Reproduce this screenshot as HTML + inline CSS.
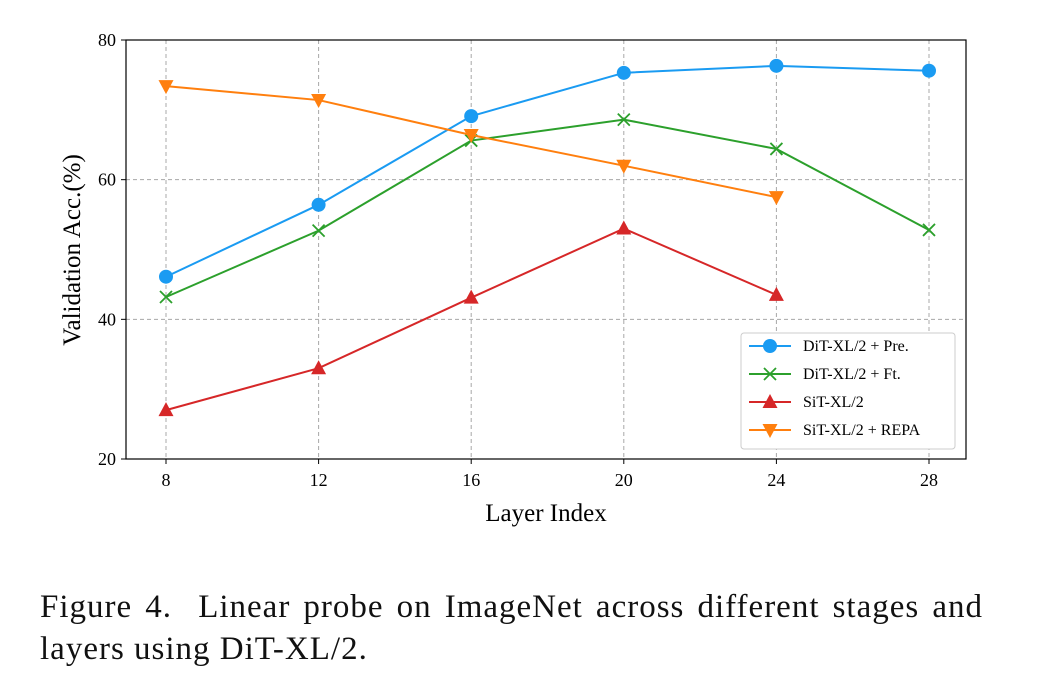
<!DOCTYPE html>
<html><head><meta charset="utf-8"><style>
body{margin:0;background:#fff;width:1046px;height:688px;overflow:hidden;font-family:"Liberation Serif",serif;}
svg text{font-family:"Liberation Serif",serif;}
.cap{position:absolute;left:40px;font-size:33px;letter-spacing:1px;line-height:42px;color:#111;white-space:nowrap;}
.l1{top:586px;width:943px;text-align:justify;text-align-last:justify;white-space:normal;}
.l2{top:628px;}
</style></head><body>
<svg width="1046" height="688" style="position:absolute;left:0;top:0">
<g id="grid"></g><g id="ticks"></g><g id="series"></g>
<rect x="126" y="40" width="840" height="419" fill="none" stroke="#000" stroke-width="1.2"/>
<text x="546" y="521" font-size="25" text-anchor="middle">Layer Index</text>
<text transform="translate(80,250) rotate(-90)" font-size="25" text-anchor="middle">Validation Acc.(%)</text>
<g id="legend"></g>
</svg>
<div class="cap l1">Figure 4.&nbsp; Linear probe on ImageNet across different stages and</div>
<div class="cap l2">layers using DiT-XL/2.</div>
<script>
const xTicks=[8,12,16,20,24,28];
const yTicks=[20,40,60,80];
const names=["DiT-XL/2 + Pre.","DiT-XL/2 + Ft.","SiT-XL/2","SiT-XL/2 + REPA"];
const xPre=[8,12,16,20,24,28];
const vPre=[46.1,56.4,69.1,75.3,76.3,75.6];
const xFt=[8,12,16,20,24,28];
const vFt=[43.2,52.7,65.6,68.6,64.4,52.8];
const xSit=[8,12,16,20,24];
const vSit=[27,33,43.1,53,43.5];
const xRepa=[8,12,16,20,24];
const vRepa=[73.4,71.4,66.4,62,57.5];
const NS="http://www.w3.org/2000/svg";
function X(v){return 166+(v-8)*(929-166)/20;}
function Y(v){return 459-(v-20)*419/60;}
function mk(t,a,p){const e=document.createElementNS(NS,t);for(const k in a)e.setAttribute(k,a[k]);p.appendChild(e);return e;}
const g=document.getElementById('grid'),tk=document.getElementById('ticks'),s=document.getElementById('series'),lg=document.getElementById('legend');
xTicks.forEach(v=>{const l=mk('line',{x1:X(v),x2:X(v),y1:40,y2:459,stroke:'#a8a8a8','stroke-dasharray':'4,3','stroke-width':1},g);

mk('line',{x1:X(v),x2:X(v),y1:459,y2:464,stroke:'#000'},tk);
const t=mk('text',{x:X(v),y:486,'font-size':18,'text-anchor':'middle'},tk);t.textContent=v;
});
yTicks.forEach(v=>{if(v>20&&v<80){const l=mk('line',{x1:126,x2:966,y1:Y(v),y2:Y(v),stroke:'#a8a8a8','stroke-dasharray':'4,3','stroke-width':1},g);
}
mk('line',{x1:121,x2:126,y1:Y(v),y2:Y(v),stroke:'#000'},tk);
const t=mk('text',{x:116,y:Y(v)+6,'font-size':18,'text-anchor':'end'},tk);t.textContent=v;
});
function marker(type,x,y,c,p){
 if(type=='o')return mk('circle',{cx:x,cy:y,r:7,fill:c},p);
 if(type=='x')return mk('path',{d:`M${x-6},${y-6}L${x+6},${y+6}M${x-6},${y+6}L${x+6},${y-6}`,stroke:c,'stroke-width':1.8,fill:'none'},p);
 if(type=='^')return mk('path',{d:`M${x},${y-8}L${x+7.5},${y+6}L${x-7.5},${y+6}Z`,fill:c},p);
 return mk('path',{d:`M${x},${y+8}L${x+7.5},${y-6}L${x-7.5},${y-6}Z`,fill:c},p);}
const series=[[xPre,vPre,'#1a9bf2','o','series-dit-pre'],[xFt,vFt,'#2ca02c','x','series-dit-ft'],[xSit,vSit,'#d62728','^','series-sit'],[xRepa,vRepa,'#ff7f0e','v','series-sit-repa']];
series.forEach(([xs,vs,c,m,n])=>{const grp=mk('g',{},s);
mk('polyline',{points:xs.map((x,i)=>X(x)+','+Y(vs[i])).join(' '),fill:'none',stroke:c,'stroke-width':2},grp);
xs.forEach((x,i)=>{const e=marker(m,X(x),Y(vs[i]),c,grp);});});
const box=mk('rect',{x:741,y:333,width:214,height:116,rx:3,fill:'#fff',stroke:'#ccc'},lg);

series.forEach(([xs,vs,c,m],i)=>{const y=346+i*28;const eg=mk('g',{},lg);

mk('line',{x1:749,x2:791,y1:y,y2:y,stroke:c,'stroke-width':2},eg);marker(m,770,y,c,eg);
const t=mk('text',{x:803,y:y+5,'font-size':16},eg);t.textContent=names[i];});
</script>
</body></html>
